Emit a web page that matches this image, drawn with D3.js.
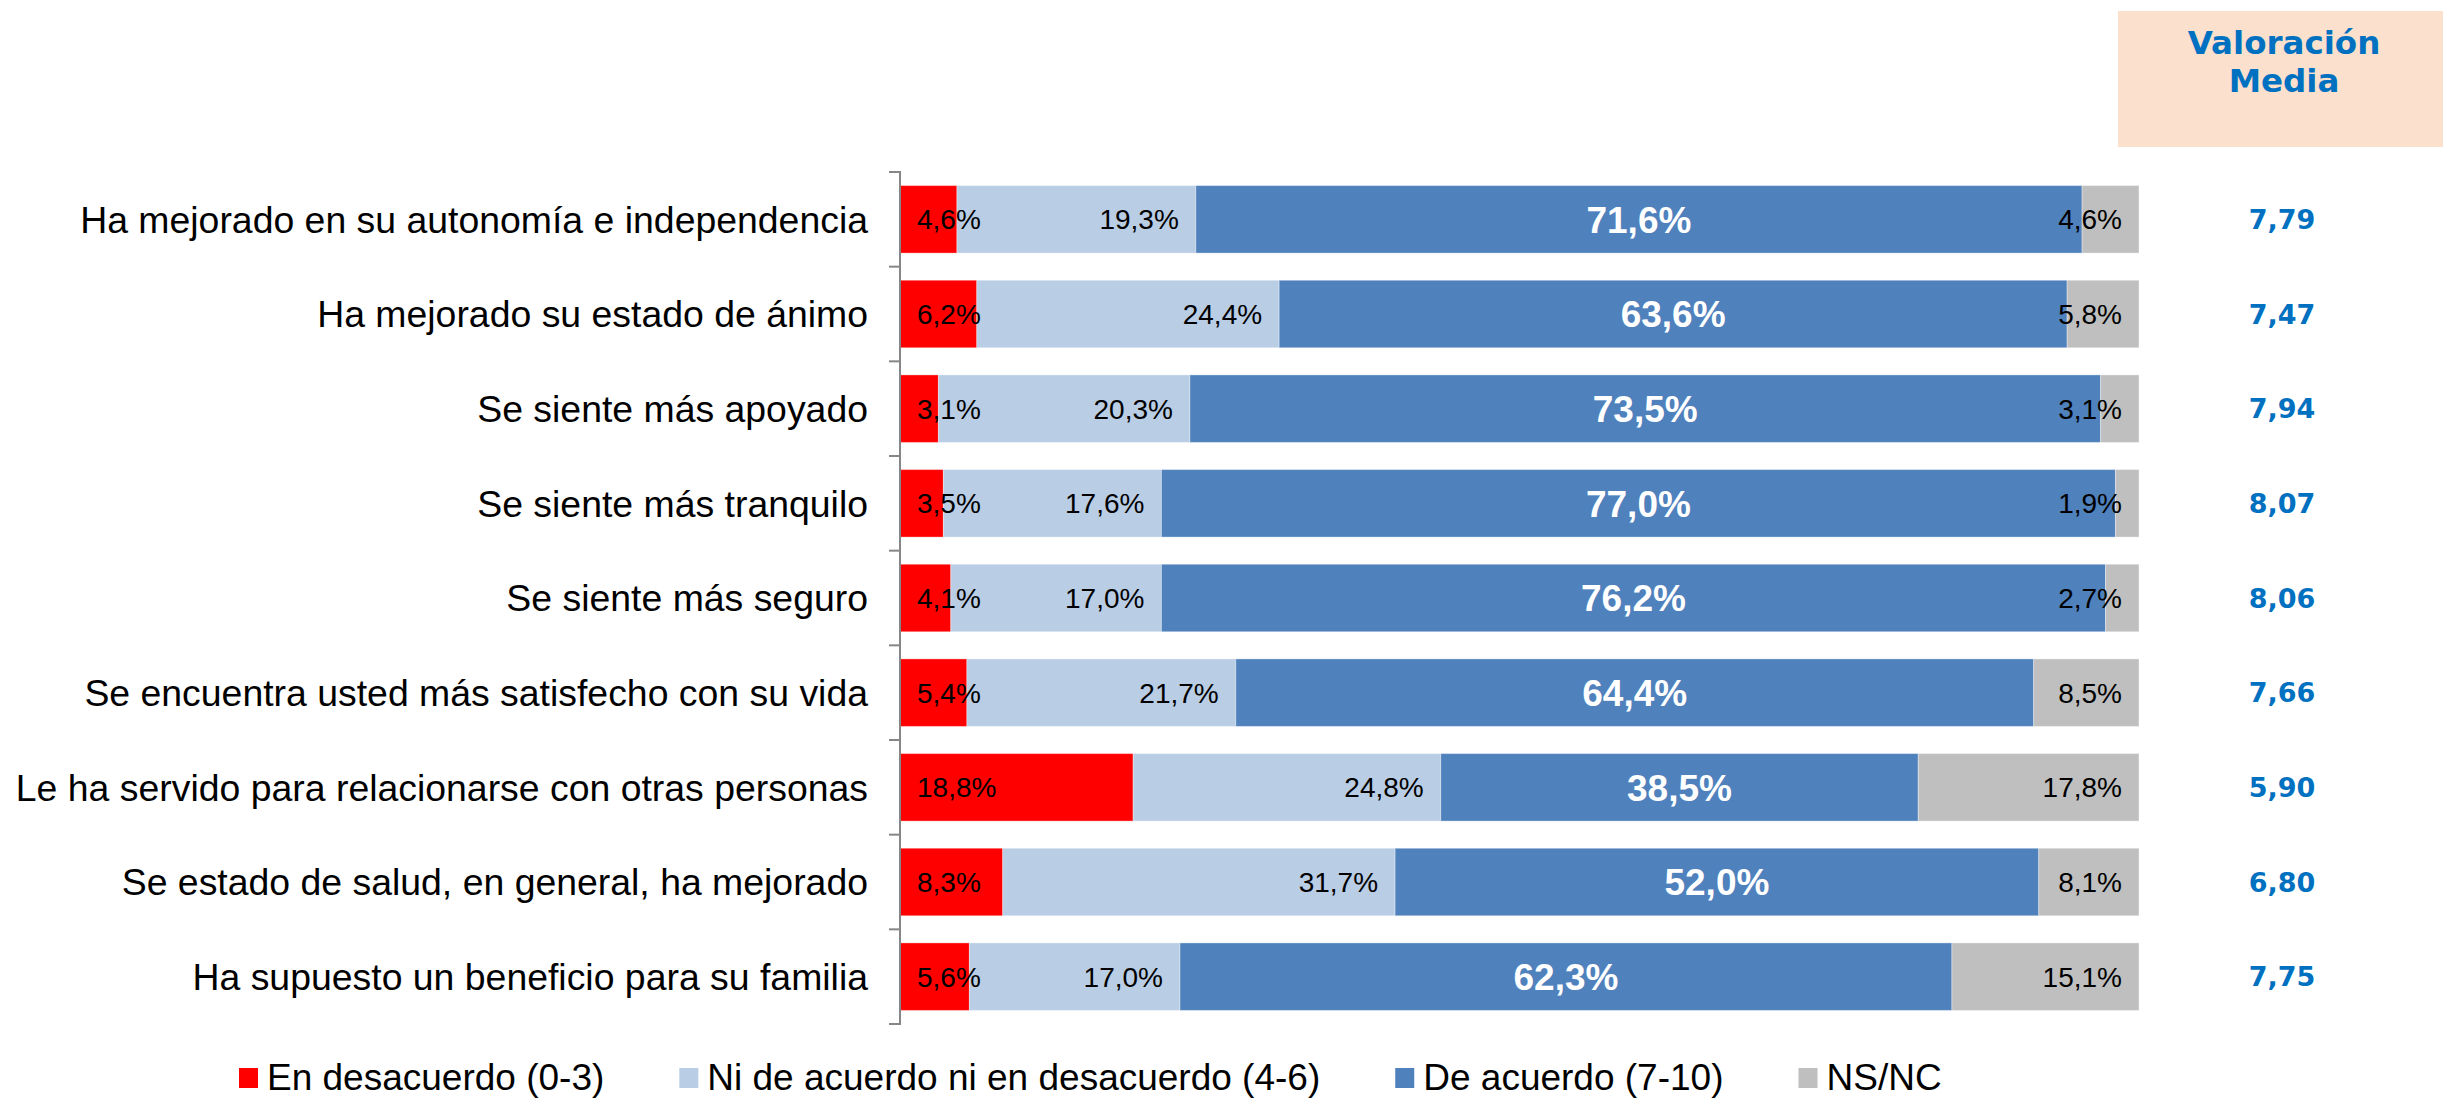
<!DOCTYPE html>
<html>
<head>
<meta charset="utf-8">
<script src="https://cdn.jsdelivr.net/npm/d3@7"></script>
<style>
    body { margin: 0; background: #fff; }
    svg { display: block; }
</style>
</head>
<body>
<div id="chart"></div>
<script>
// Categories, top to bottom
var categories = [
    "Ha mejorado en su autonomía e independencia",
    "Ha mejorado su estado de ánimo",
    "Se siente más apoyado",
    "Se siente más tranquilo",
    "Se siente más seguro",
    "Se encuentra usted más satisfecho con su vida",
    "Le ha servido para relacionarse con otras personas",
    "Se estado de salud, en general, ha mejorado",
    "Ha supuesto un beneficio para su familia"
];

// Series (percent)
var desacuerdo = [4.6, 6.2, 3.1, 3.5, 4.1, 5.4, 18.8, 8.3, 5.6];
var neutral = [19.3, 24.4, 20.3, 17.6, 17.0, 21.7, 24.8, 31.7, 17.0];
var acuerdo = [71.6, 63.6, 73.5, 77.0, 76.2, 64.4, 38.5, 52.0, 62.3];
var nsnc = [4.6, 5.8, 3.1, 1.9, 2.7, 8.5, 17.8, 8.1, 15.1];

// Valoración media
var media = [7.79, 7.47, 7.94, 8.07, 8.06, 7.66, 5.90, 6.80, 7.75];

var seriesNames = ["En desacuerdo (0-3)", "Ni de acuerdo ni en desacuerdo (4-6)", "De acuerdo (7-10)", "NS/NC"];
var seriesColors = ["#ff0000", "#b9cde5", "#4f81bd", "#bfbfbf"];

var W = 2443, H = 1098;
var svg = d3.select("#chart")
    .append("svg")
    .attr("width", W)
    .attr("height", H);

//Plot boundary
var plotLeft = 900, plotRight = 2139, plotTop = 172, plotBottom = 1024;

var x = d3.scaleLinear().domain([0, 100]).range([plotLeft, plotRight]);
var y = d3.scaleBand()
    .domain(categories)
    .range([plotTop, plotBottom])
    .paddingInner(0.287)
    .paddingOuter(0.1435);

var fmt = function (v) { return v.toFixed(1).replace(".", ",") + "%"; };

//Build stacked rows (normalised to 100% like the original)
var rows = categories.map(function (c, i) {
    var vals = [desacuerdo[i], neutral[i], acuerdo[i], nsnc[i]];
    var sum = d3.sum(vals);
    var cum = 0;
    var segs = vals.map(function (v, k) {
        var s = { cat: c, k: k, v: v, x0: cum / sum * 100, x1: (cum + v) / sum * 100 };
        cum += v;
        return s;
    });
    return segs;
});
var segments = d3.merge(rows);

//Bars
svg.append("g")
    .selectAll("rect")
    .data(segments)
    .enter()
    .append("rect")
    .attr("x", function (d) { return x(d.x0); })
    .attr("y", function (d) { return y(d.cat); })
    .attr("width", function (d) { return x(d.x1) - x(d.x0); })
    .attr("height", y.bandwidth())
    .attr("fill", function (d) { return seriesColors[d.k]; })
    .attr("stroke", "#ffffff")
    .attr("stroke-opacity", 0.35)
    .attr("stroke-width", 1);

//Data labels
svg.append("g")
    .selectAll("text")
    .data(segments)
    .enter()
    .append("text")
    .attr("x", function (d) {
        if (d.k === 0) { return x(d.x0) + 17; }
        if (d.k === 2) { return (x(d.x0) + x(d.x1)) / 2; }
        return x(d.x1) - 17;
    })
    .attr("y", function (d) { return y(d.cat) + y.bandwidth() / 2; })
    .attr("dy", "0.36em")
    .attr("text-anchor", function (d) {
        if (d.k === 0) { return "start"; }
        if (d.k === 2) { return "middle"; }
        return "end";
    })
    .style("font-family", "Arial, 'Liberation Sans', sans-serif")
    .style("font-size", function (d) { return d.k === 2 ? "37px" : "28px"; })
    .style("font-weight", function (d) { return d.k === 2 ? "bold" : "normal"; })
    .style("fill", function (d) { return d.k === 2 ? "#ffffff" : "#000000"; })
    .text(function (d) { return fmt(d.v); });

//Y axis
var yAxis = d3.axisLeft(y).tickSize(0).tickFormat("");
var axisG = svg.append("g")
    .attr("transform", "translate(" + plotLeft + ",0)")
    .call(yAxis);
axisG.select(".domain").attr("stroke", "#868686").attr("stroke-width", 2)
    .attr("fill", "none")
    .attr("d", "M-11," + plotTop + "H0V" + plotBottom + "H-11");

//Tick marks between categories
var tickPos = d3.range(categories.length + 1).map(function (i) { return plotTop + i * y.step(); });
axisG.selectAll(".sep")
    .data(tickPos)
    .enter()
    .append("line")
    .attr("class", "sep")
    .attr("x1", -11)
    .attr("x2", 0)
    .attr("y1", function (d) { return d; })
    .attr("y2", function (d) { return d; })
    .attr("stroke", "#868686")
    .attr("stroke-width", 2);

//Category labels
svg.append("g")
    .selectAll("text")
    .data(categories)
    .enter()
    .append("text")
    .attr("x", 868)
    .attr("y", function (d) { return y(d) + y.bandwidth() / 2; })
    .attr("dy", "0.36em")
    .attr("text-anchor", "end")
    .style("font-family", "Arial, 'Liberation Sans', sans-serif")
    .style("font-size", "37.4px")
    .style("fill", "#000")
    .text(function (d) { return d; });

//Valoración media header
svg.append("rect")
    .attr("x", 2118)
    .attr("y", 11)
    .attr("width", W - 2118)
    .attr("height", 136)
    .attr("fill", "#fbe0cd");

svg.selectAll(".hdr")
    .data(["Valoración", "Media"])
    .enter()
    .append("text")
    .attr("class", "hdr")
    .attr("x", 2284)
    .attr("y", function (d, i) { return 54 + i * 38; })
    .attr("text-anchor", "middle")
    .style("font-family", "Verdana, 'DejaVu Sans', sans-serif")
    .style("font-size", "32.5px")
    .style("font-weight", "bold")
    .style("fill", "#0070c0")
    .text(function (d) { return d; });

//Valoración media values
svg.append("g")
    .selectAll("text")
    .data(media)
    .enter()
    .append("text")
    .attr("x", 2282)
    .attr("y", function (d, i) { return y(categories[i]) + y.bandwidth() / 2; })
    .attr("dy", "0.36em")
    .attr("text-anchor", "middle")
    .style("font-family", "Verdana, 'DejaVu Sans', sans-serif")
    .style("font-size", "27px")
    .style("font-weight", "bold")
    .style("fill", "#0070c0")
    .text(function (d) { return d.toFixed(2).replace(".", ","); });

//Legend
var legend = svg.append("g").attr("transform", "translate(239,0)");
var lx = 0;
seriesNames.forEach(function (name, i) {
    var g = legend.append("g").attr("transform", "translate(" + lx + ",0)");
    g.append("rect")
        .attr("x", 0)
        .attr("y", 1068)
        .attr("width", 19)
        .attr("height", 20)
        .attr("fill", seriesColors[i]);
    var t = g.append("text")
        .attr("x", 28)
        .attr("y", 1077)
        .attr("dy", "0.36em")
        .style("font-family", "Arial, 'Liberation Sans', sans-serif")
        .style("font-size", "37px")
        .style("fill", "#000")
        .text(name);
    lx += 28 + t.node().getComputedTextLength() + 75;
});
</script>
</body>
</html>
